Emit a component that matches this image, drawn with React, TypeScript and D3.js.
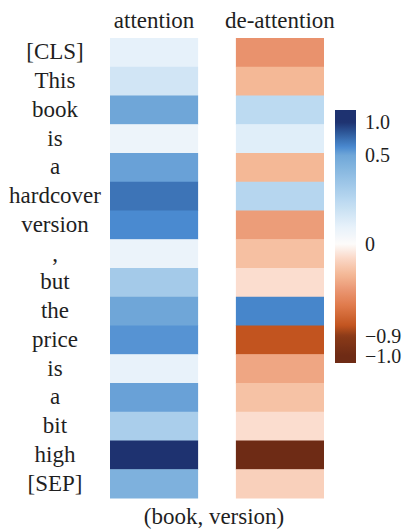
import React from "react";
import * as d3 from "d3";

// Tokens of the sentence, top to bottom
const tokens = [
  "[CLS]", "This", "book", "is", "a", "hardcover", "version", ",",
  "but", "the", "price", "is", "a", "bit", "high", "[SEP]",
];

// Column headers
const columns = ["attention", "de-attention"];

// Weights per token for each column
const attentionValues = [
  0.1, 0.17, 0.5, 0.07, 0.52, 0.72, 0.62, 0.08,
  0.32, 0.5, 0.58, 0.09, 0.52, 0.3, 1.0, 0.45,
];
const deAttentionValues = [
  -0.47, -0.3, 0.24, 0.12, -0.3, 0.26, -0.42, -0.26,
  -0.12, 0.64, -0.8, -0.38, -0.25, -0.12, -1.0, -0.18,
];

// Colour bar ticks
const colorbarTicks = [1.0, 0.5, 0, -0.9, -1.0];
const colorbarTickLabels = ["1.0", "0.5", "0", "\u22120.9", "\u22121.0"];

const pairLabel = "(book, version)";

const W = 414;
const H = 531;
const FONT = "'Liberation Serif', 'Times New Roman', serif";

// Diverging colour map: brown/orange for negative, blue for positive
const color = d3
  .scaleLinear<string>()
  .domain([-1.0, -0.9, -0.8, -0.6, -0.45, -0.3, -0.15, 0, 0.1, 0.25, 0.4, 0.5, 0.62, 0.72, 0.85, 1.0])
  .range([
    "#6e2b15", "#8a3a18", "#c2541f", "#e07b4c", "#ea9672", "#f4b896", "#fad6c4", "#fdfbfa",
    "#e6f1fa", "#b9d8f0", "#8cbbe2", "#6fa6d8", "#4a8ad0", "#3d74b7", "#2c5596", "#1e3270",
  ])
  .interpolate(d3.interpolateRgb)
  .clamp(true);

export default function App() {
  const y = d3
    .scaleBand<number>()
    .domain(tokens.map((_, i) => i))
    .range([38, 498]);

  const x = d3.scaleBand<string>().domain(columns).range([110, 324]).paddingInner(0.3);

  const series = [attentionValues, deAttentionValues];

  // Colour bar: piecewise value-to-position scale
  const barY = d3
    .scaleLinear()
    .domain([-1.0, -0.9, 0, 0.5, 1.0])
    .range([356, 336, 244, 155, 122]);
  const barTop = 110;
  const barBottom = 363;
  const barX = 335;
  const barW = 21;

  const gradStops = d3.range(0, 101).map((i) => {
    const t = i / 100;
    const py = barTop + t * (barBottom - barTop);
    const v = barY.invert(py);
    return { offset: `${t * 100}%`, color: color(Math.max(-1, Math.min(1, v))) };
  });

  return (
    <svg
      width={W}
      height={H}
      style={{ position: "absolute", left: 0, top: 0, background: "#ffffff" }}
      fontFamily={FONT}
    >
      <defs>
        <linearGradient id="cbar" x1="0" y1="0" x2="0" y2="1">
          {gradStops.map((s, i) => (
            <stop key={i} offset={s.offset} stopColor={s.color} />
          ))}
        </linearGradient>
      </defs>

      {/* column headers */}
      {columns.map((c) => (
        <text
          key={c}
          x={(x(c) as number) + x.bandwidth() / 2}
          y={28}
          textAnchor="middle"
          fontSize={23}
          fill="#1f1f1f"
        >
          {c}
        </text>
      ))}

      {/* heatmap cells */}
      {columns.map((c, ci) =>
        series[ci].map((v, i) => (
          <rect
            key={`${c}-${i}`}
            x={x(c) as number}
            y={y(i) as number}
            width={x.bandwidth()}
            height={y.bandwidth() + 0.5}
            fill={color(v)}
          />
        ))
      )}

      {/* token labels */}
      {tokens.map((t, i) => (
        <text
          key={`tok-${i}`}
          x={55}
          y={(y(i) as number) + y.bandwidth() / 2 + 7}
          textAnchor="middle"
          fontSize={23}
          fill="#1f1f1f"
        >
          {t}
        </text>
      ))}

      {/* colour bar */}
      <rect x={barX} y={barTop} width={barW} height={barBottom - barTop} fill="url(#cbar)" />
      {colorbarTicks.map((v, i) => (
        <text
          key={`cb-${i}`}
          x={365}
          y={barY(v) + 7}
          fontSize={20}
          fill="#1f1f1f"
        >
          {colorbarTickLabels[i]}
        </text>
      ))}

      {/* pair label */}
      <text x={214} y={524} textAnchor="middle" fontSize={23} fill="#1f1f1f">
        {pairLabel}
      </text>
    </svg>
  );
}
